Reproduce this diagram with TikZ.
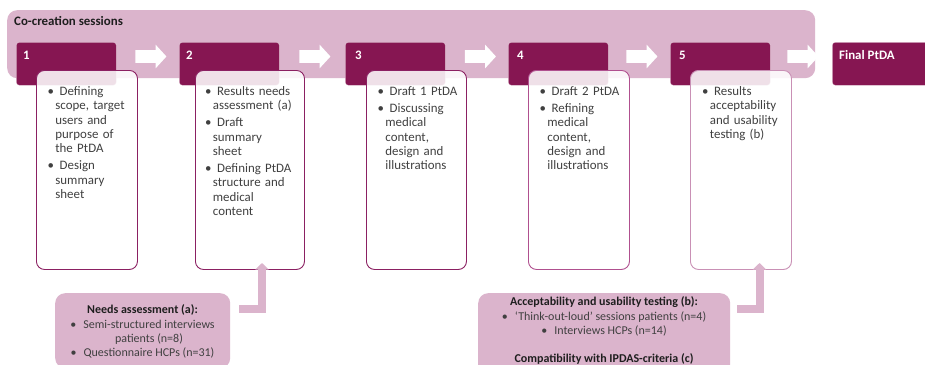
\documentclass[tikz,border=0pt]{standalone}
\usepackage{fontspec}
\setmainfont{Carlito}
\usetikzlibrary{shapes.arrows, arrows.meta}

\definecolor{plum}{RGB}{134,22,82}
\definecolor{mauve}{RGB}{219,180,204}
\definecolor{rimA}{RGB}{139,32,98}
\definecolor{rimB}{RGB}{176,80,143}
\definecolor{rimC}{RGB}{201,144,181}
\definecolor{ink}{RGB}{64,64,64}
\definecolor{headink}{RGB}{30,30,30}

% bullet item with hanging indent; items are separated by \pgap
\newcommand{\pitem}[1]{\par\hangindent=7.7pt\hangafter=1\noindent\rule{0pt}{10pt}\makebox[7.7pt][l]{\textbullet}\ #1\par}
\newcommand{\pgap}{\vspace{2.7pt}}
% centred bullet line and its indented continuation
\newcommand{\cbul}{\makebox[13pt][l]{\textbullet}}
\newcommand{\cind}{\makebox[13pt]{}}

\tikzset{
  sessionband/.style={fill=mauve, rounded corners=10pt, inner sep=0pt, anchor=north west},
  stepbox/.style={fill=plum, draw=white, draw opacity=0.45, line width=0.6pt, rounded corners=3pt,
    minimum width=100pt, minimum height=43pt, inner sep=0pt, anchor=north west},
  steplabel/.style={text=white, font=\fontsize{12.9}{14.3}\selectfont\bfseries, inner sep=0pt, anchor=west},
  flowarrow/.style={single arrow, fill=white, draw=none, inner xsep=0pt, inner ysep=6.2pt,
    single arrow head extend=5.4pt, single arrow tip angle=95, minimum height=31pt},
  panel/.style={fill=white, fill opacity=0.87, draw=rimA, line width=0.9pt, rounded corners=8pt,
    minimum height=199pt, inner sep=0pt, anchor=north west},
  listtext/.style={text=ink, font=\fontsize{12.9}{14.3}\selectfont, text width=110pt, align=left,
    inner sep=0pt, anchor=north west},
  notebox/.style={fill=mauve, rounded corners=10pt, inner sep=0pt, anchor=north west},
  notetext/.style={text=ink, font=\fontsize{12}{14.3}\selectfont, align=center, inner sep=0pt, anchor=north},
  feed/.style={draw=mauve, line width=8pt, -{Triangle[width=13pt, length=6.5pt]}},
}

\begin{document}
\begin{tikzpicture}[x=1pt, y=-1pt, font=\fontsize{12.9}{14.3}\selectfont]
  \clip (0,0) rectangle (925,364);
  \fill[white] (0,0) rectangle (925,364);

  % co-creation band
  \node[sessionband, minimum width=808pt, minimum height=68pt] (band) at (7,10) {};
  \node[text=headink, font=\fontsize{12.9}{14.3}\selectfont\bfseries, inner sep=0pt, anchor=west]
    (bandtitle) at (14,21) {Co-creation sessions};

  % step headers
  \node[stepbox] (s1) at (16,42) {};
  \node[stepbox] (s2) at (179,42) {};
  \node[stepbox] (s3) at (345,42) {};
  \node[stepbox] (s4) at (508,42) {};
  \node[stepbox] (s5) at (670,42) {};
  \node[stepbox, minimum width=110pt] (sf) at (832,42) {};
  \node[steplabel] (n1) at (23,55) {1};
  \node[steplabel] (n2) at (186,55) {2};
  \node[steplabel] (n3) at (355,55) {3};
  \node[steplabel] (n4) at (517,55) {4};
  \node[steplabel] (n5) at (679,55) {5};
  \node[steplabel] (nf) at (839,55) {Final PtDA};

  % arrows between the steps
  \node[flowarrow] (a1) at (148,56.5) {};
  \node[flowarrow] (a2) at (312,56.5) {};
  \node[flowarrow] (a3) at (477.5,56.5) {};
  \node[flowarrow] (a4) at (639,56.5) {};
  \node[flowarrow] (a5) at (800,56.5) {};

  % content panels
  \node[panel, minimum width=101pt] (w1) at (36,70) {};
  \node[panel, minimum width=109pt] (w2) at (195,70) {};
  \node[panel, minimum width=100pt] (w3) at (366,70) {};
  \node[panel, minimum width=101pt, draw=rimB] (w4) at (528,70) {};
  \node[panel, minimum width=101pt, draw=rimC] (w5) at (690,70) {};

  \node[listtext] (t1) at (47.5,81) {%
    \pitem{Defining\newline scope, target\newline users and\newline purpose of\newline the PtDA}\pgap
    \pitem{Design\newline summary\newline sheet}};
  \node[listtext] (t2) at (205,81) {%
    \pitem{Results needs\newline assessment (a)}\pgap
    \pitem{Draft\newline summary\newline sheet}\pgap
    \pitem{Defining PtDA\newline structure and\newline medical\newline content}};
  \node[listtext] (t3) at (377.5,81) {%
    \pitem{Draft 1 PtDA}\pgap
    \pitem{Discussing\newline medical\newline content,\newline design and\newline illustrations}};
  \node[listtext] (t4) at (539.5,81) {%
    \pitem{Draft 2 PtDA}\pgap
    \pitem{Refining\newline medical\newline content,\newline design and\newline illustrations}};
  \node[listtext] (t5) at (702,81) {%
    \pitem{Results\newline acceptability\newline and usability\newline testing (b)}};

  % study boxes below
  \node[notebox, minimum width=175pt, minimum height=75pt] (needs) at (55,293) {};
  \node[notetext] (needstext) at (142.5,303.5) {%
    \rule{0pt}{10pt}{\color{headink}\bfseries Needs assessment (a):}\\
    \cbul Semi-structured interviews\\
    \cind patients (n=8)\\
    \cbul Questionnaire HCPs (n=31)};

  \node[notebox, minimum width=252pt, minimum height=90pt] (testing) at (478,293) {};
  \node[notetext] (testingtext) at (604,295.5) {%
    \rule{0pt}{10pt}{\color{headink}\bfseries Acceptability and usability testing (b):}\\
    \cbul ‘Think-out-loud’ sessions patients (n=4)\\
    \cbul Interviews HCPs (n=14)\\[14.3pt]
    {\color{headink}\bfseries Compatibility with IPDAS-criteria (c)}};

  % feeds from the studies into steps 2 and 5
  \coordinate (needsout) at (239,308.5);
  \coordinate (w2in) at (262,263);
  \coordinate (testingout) at (737,308.5);
  \coordinate (w5in) at (759.5,263);
  \draw[feed] (needsout) -| (w2in);
  \draw[feed] (testingout) -| (w5in);
\end{tikzpicture}
\end{document}
